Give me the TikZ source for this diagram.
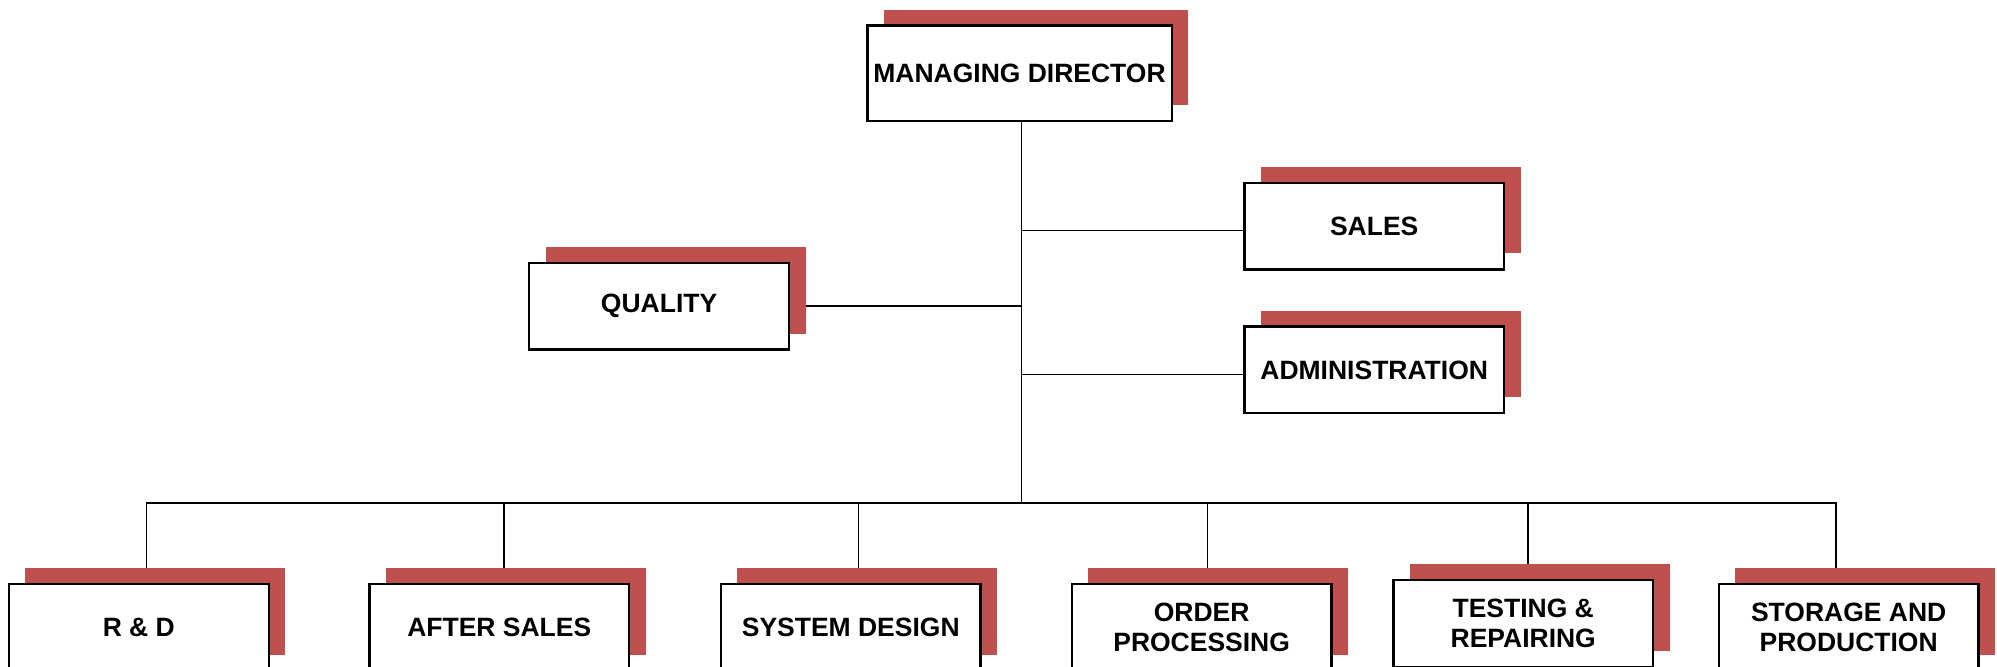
\documentclass[tikz,border=0pt]{standalone}
\usepackage{fontspec}
\setmainfont{Liberation Sans}
\usetikzlibrary{shadows,backgrounds}
\definecolor{shadowred}{HTML}{C0504D}
\begin{document}
\begin{tikzpicture}[x=0.5pt,y=-0.5pt]
	\tikzstyle{dept}=[rectangle,draw=black,line width=0.95pt,fill=white,minimum width=102pt,minimum height=34pt,inner sep=1pt,align=center,font=\bfseries\fontsize{10.4}{12}\selectfont,drop shadow={shadow xshift=6.5pt,shadow yshift=6.25pt,fill=shadowred,opacity=1}]
	\tikzstyle{head}=[dept,minimum width=119.5pt,minimum height=37.5pt]
	\tikzstyle{link}=[line width=0.7pt]
	\useasboundingbox (0,0) rectangle (1568,523.7);

	\node[head] (MD) at (800.5,57.5) {MANAGING DIRECTOR};
	\node[dept] (QUAL) at (517.5,240.5) {QUALITY};
	\node[dept] (SALES) at (1079,177.5) {SALES};
	\node[dept] (ADMIN) at (1079,290.5) {ADMINISTRATION};

	\node[dept] (RD) at (109,492.5) {R \& D};
	\node[dept] (AS) at (392,492.5) {AFTER SALES};
	\node[dept] (SD) at (668,492.5) {SYSTEM DESIGN};
	\node[dept] (OP) at (943.5,492.5) {ORDER\\PROCESSING};
	\node[dept] (TR) at (1196,489.5) {TESTING \&\\REPAIRING};
	\node[dept] (SP) at (1451.5,492.5) {STORAGE AND\\PRODUCTION};

	\coordinate (B) at (802,395);
	\coordinate (S1) at ([yshift=-1.75pt]SALES.west);
	\coordinate (A1) at ([yshift=-1.75pt]ADMIN.west);

	\begin{scope}[on background layer]
		\draw[link] ([xshift=0.75pt]MD.south) -- (B);
		\draw[link] (QUAL.east) -- (QUAL.east -| B);
		\draw[link] (S1) -- (S1 -| B);
		\draw[link] (A1) -- (A1 -| B);

		\draw[link] ([xshift=3pt]RD.north) |- (B);
		\draw[link] ([xshift=2pt]AS.north) |- (B);
		\draw[link] ([xshift=3pt]SD.north) |- (B);
		\draw[link] ([xshift=2.3pt]OP.north) |- (B);
		\draw[link] ([xshift=2pt]TR.north) |- (B);
		\draw[link] ([xshift=-5pt]SP.north) |- (B);
	\end{scope}
\end{tikzpicture}
\end{document}
